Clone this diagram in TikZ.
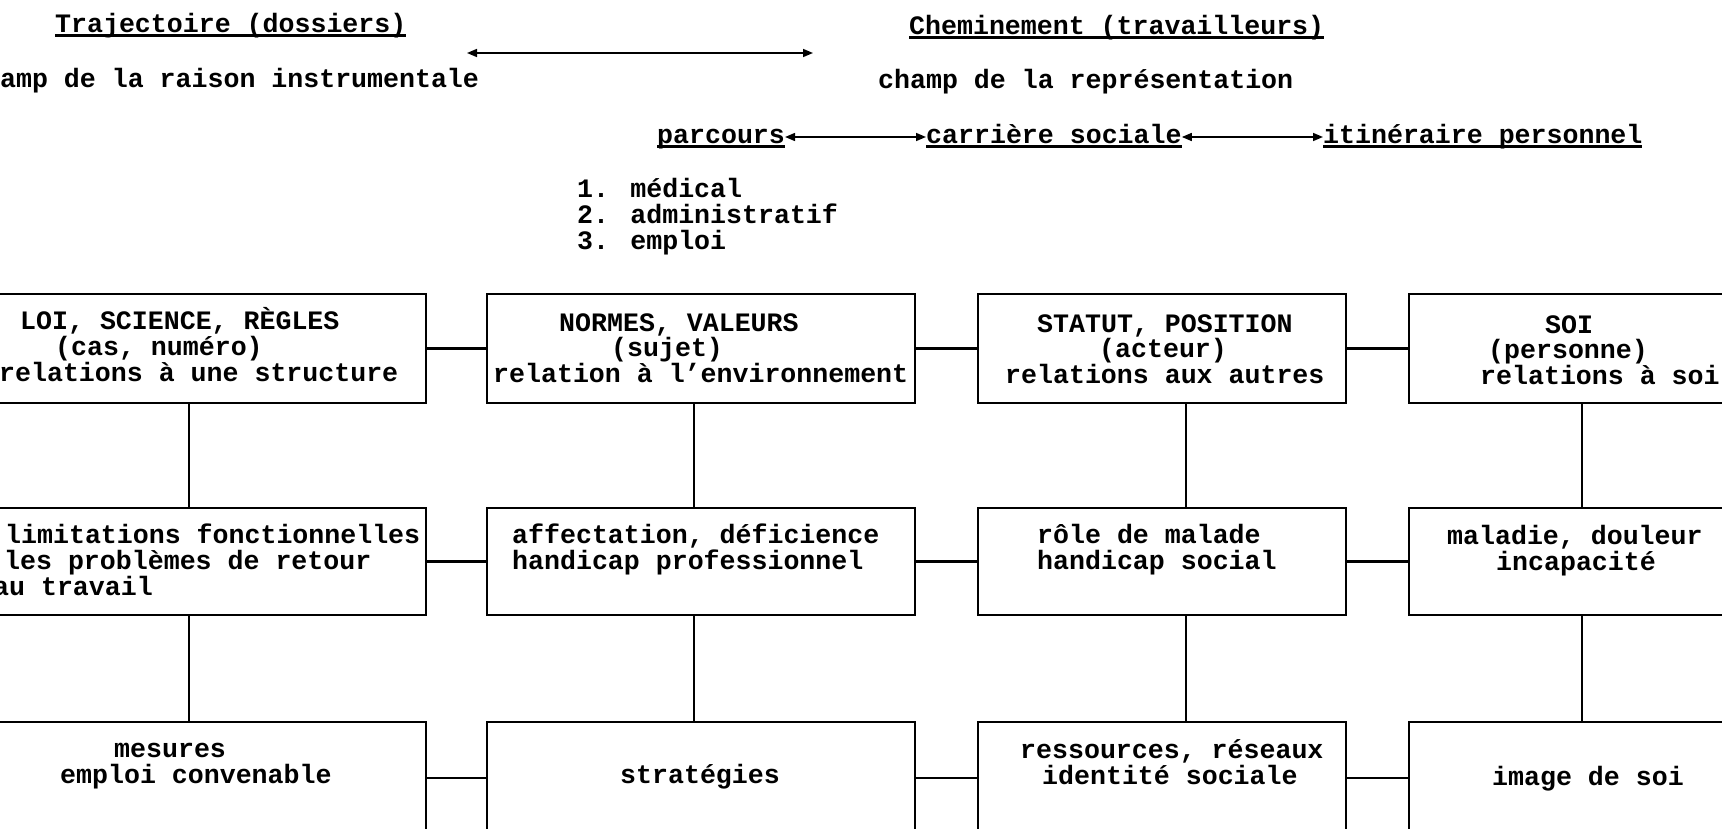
\documentclass[tikz,border=0pt]{standalone}
\usepackage{fontspec}
\setmainfont{Liberation Mono}
\usetikzlibrary{arrows.meta}
\newcommand\ulx[1]{\setbox0=\hbox{#1}\rlap{\rule[-5pt]{\wd0}{2.6pt}}\box0}
\begin{document}
\begin{tikzpicture}[x=1pt,y=-1pt,
  box/.style={draw, line width=2.6pt, inner sep=0},
  link/.style={line width=2.2pt},
  txt/.style={anchor=base west, inner sep=0, font=\fontsize{26.6}{26.4}\selectfont\bfseries},
  dbl/.style={line width=1.6pt, {Triangle[length=10pt,width=8pt]}-{Triangle[length=10pt,width=8pt]}}]
\useasboundingbox (0,0) rectangle (1722,828);
\fill[white] (0,0) rectangle (1722,828);
\clip (0,0) rectangle (1722,828);

% headings
\node[txt] (traj) at (55,32) {\ulx{Trajectoire (dossiers)}};
\node[txt] (chem) at (909,34) {\ulx{Cheminement (travailleurs)}};
\coordinate (aL) at (467,53);
\coordinate (aR) at (813,53);
\draw[dbl] (aL) -- (aR);
\node[txt] (raison) at (-32,87) {champ de la raison instrumentale};
\node[txt] (repr) at (878,88) {champ de la représentation};
\node[txt] (parc) at (657,143) {\ulx{parcours}};
\node[txt] (carr) at (926,143) {\ulx{carrière sociale}};
\node[txt] (itin) at (1323,143) {\ulx{itinéraire personnel}};
\draw[dbl] ([yshift=6pt]parc.base east) -- ([yshift=6pt]carr.base west);
\draw[dbl] ([yshift=6pt]carr.base east) -- ([yshift=6pt]itin.base west);
\node[txt] (l1) at (577,197) {1. médical};
\node[txt] (l2) at (577,223) {2. administratif};
\node[txt] (l3) at (577,249) {3. emploi};

% boxes
\node[box, minimum width=474pt, minimum height=109pt] (A1) at (189,348.5) {};
\node[box, minimum width=428pt, minimum height=109pt] (B1) at (701,348.5) {};
\node[box, minimum width=368pt, minimum height=109pt] (C1) at (1162,348.5) {};
\node[box, minimum width=346pt, minimum height=109pt] (D1) at (1582,348.5) {};
\node[box, minimum width=474pt, minimum height=107pt] (A2) at (189,561.5) {};
\node[box, minimum width=428pt, minimum height=107pt] (B2) at (701,561.5) {};
\node[box, minimum width=368pt, minimum height=107pt] (C2) at (1162,561.5) {};
\node[box, minimum width=346pt, minimum height=107pt] (D2) at (1582,561.5) {};
\node[box, minimum width=474pt, minimum height=112pt] (A3) at (189,778) {};
\node[box, minimum width=428pt, minimum height=112pt] (B3) at (701,778) {};
\node[box, minimum width=368pt, minimum height=112pt] (C3) at (1162,778) {};
\node[box, minimum width=346pt, minimum height=112pt] (D3) at (1582,778) {};

% horizontal links
\foreach \r in {1,2,3}{
  \draw[link] (A\r.east) -- (B\r.west);
  \draw[link] (B\r.east) -- (C\r.west);
  \draw[link] (C\r.east) -- (D\r.west);
}
% vertical links
\foreach \a/\b in {1/2,2/3}{
  \draw[link] (A\a.south) -- (A\b.north);
  \draw[link] ([xshift=-7pt]B\a.south) -- ([xshift=-7pt]B\b.north);
  \draw[link] ([xshift=24pt]C\a.south) -- ([xshift=24pt]C\b.north);
  \draw[link] (D\a.south) -- (D\b.north);
}

% row 1 texts
\node[txt] (a1a) at (20,329) {LOI, SCIENCE, RÈGLES};
\node[txt] (a1b) at (55,355) {(cas, numéro)};
\node[txt] (a1c) at (-1,381) {relations à une structure};
\node[txt] (b1a) at (559,331) {NORMES, VALEURS};
\node[txt] (b1b) at (611,356) {(sujet)};
\node[txt] (b1c) at (493,382) {relation à l'environnement};
\node[txt] (c1a) at (1037,332) {STATUT, POSITION};
\node[txt] (c1b) at (1099,357) {(acteur)};
\node[txt] (c1c) at (1005,383) {relations aux autres};
\node[txt] (d1a) at (1545,333) {SOI};
\node[txt] (d1b) at (1488,358) {(personne)};
\node[txt] (d1c) at (1480,384) {relations à soi};

% row 2 texts
\node[txt] (a2a) at (5,543) {limitations fonctionnelles};
\node[txt] (a2b) at (4,569) {les problèmes de retour};
\node[txt] (a2c) at (-7,595) {au travail};
\node[txt] (b2a) at (512,543) {affectation, déficience};
\node[txt] (b2b) at (512,569) {handicap professionnel};
\node[txt] (c2a) at (1037,543) {rôle de malade};
\node[txt] (c2b) at (1037,569) {handicap social};
\node[txt] (d2a) at (1447,544) {maladie, douleur};
\node[txt] (d2b) at (1496,570) {incapacité};

% row 3 texts
\node[txt] (a3a) at (114,757) {mesures};
\node[txt] (a3b) at (60,783) {emploi convenable};
\node[txt] (b3a) at (620,783) {stratégies};
\node[txt] (c3a) at (1020,758) {ressources, réseaux};
\node[txt] (c3b) at (1042,784) {identité sociale};
\node[txt] (d3a) at (1492,785) {image de soi};
\end{tikzpicture}
\end{document}
